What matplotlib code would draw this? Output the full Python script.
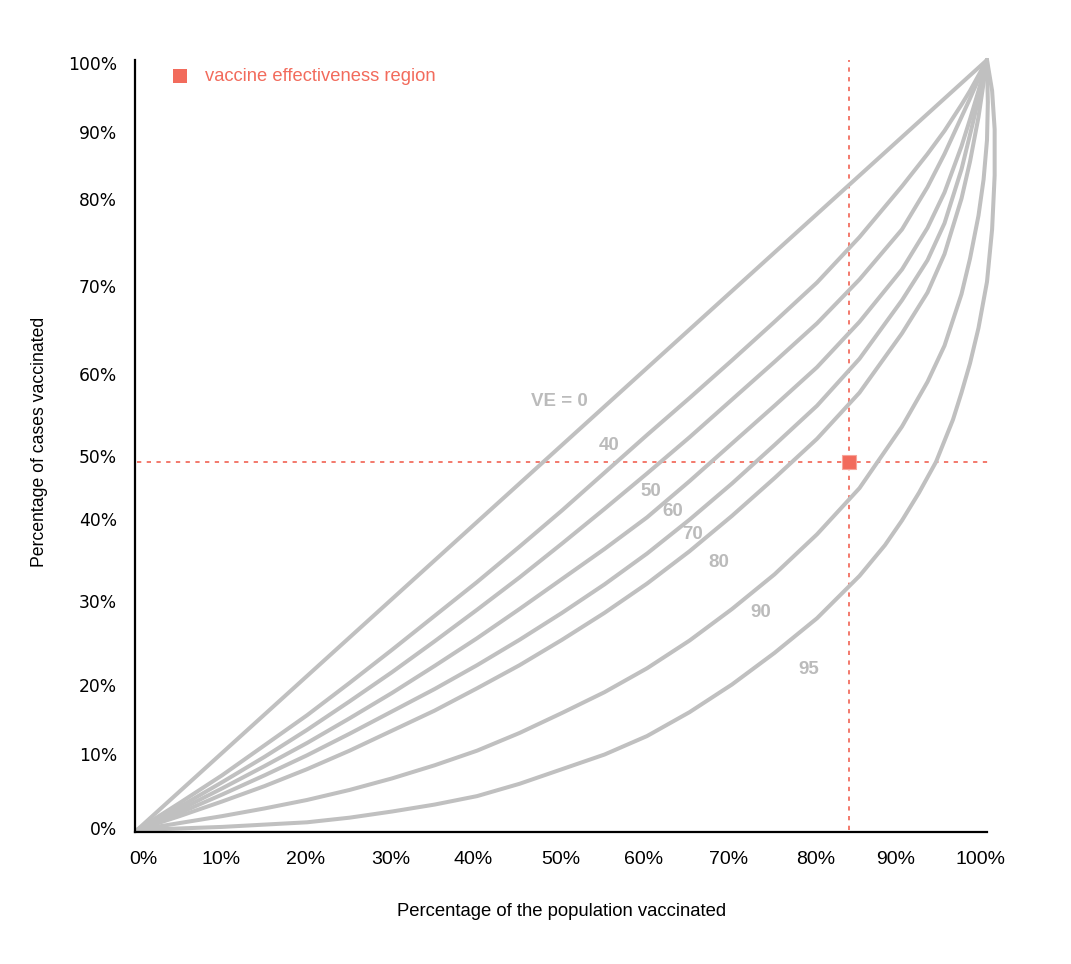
import matplotlib
matplotlib.use('Agg')
import matplotlib.pyplot as plt

# 人口接种比例 (x, %)
pop_pct = [0, 5, 10, 15, 20, 25, 30, 35, 40, 45, 50, 55, 60, 65, 70, 75, 80,
           85, 90, 93, 95, 97, 98, 99, 100]

# 各疫苗效力曲线: 病例中已接种比例 (y, %) —— 读图估计
ve0 = [0, 5, 10, 15, 20, 25, 30, 35, 40, 45, 50, 55, 60, 65, 70, 75, 80,
       85, 90, 93, 95, 97, 98, 99, 100]
ve40 = [0, 3.5, 7.1, 11.0, 14.9, 19.1, 23.4, 27.8, 32.2, 36.8, 41.5, 46.4, 51.3,
        56.1, 61.0, 66.0, 71.1, 77.0, 83.6, 87.8, 90.8, 94.2, 96.0, 98.0, 100]
ve50 = [0, 3.0, 6.2, 9.5, 13.0, 16.7, 20.5, 24.5, 28.6, 32.8, 37.2, 41.7, 46.3,
        51.0, 55.9, 60.8, 65.8, 71.5, 78.0, 83.5, 87.8, 92.6, 95.0, 97.5, 100]
ve60 = [0, 2.6, 5.4, 8.3, 11.3, 14.5, 17.8, 21.3, 24.9, 28.7, 32.6, 36.5, 40.6,
        45.3, 50.2, 55.1, 60.1, 66.0, 72.8, 78.2, 82.8, 88.8, 92.3, 96.0, 100]
ve70 = [0, 2.2, 4.6, 7.1, 9.7, 12.5, 15.4, 18.3, 21.4, 24.7, 28.2, 31.9, 35.9,
        40.3, 45.0, 50.0, 55.1, 61.2, 68.8, 74.0, 78.8, 85.8, 90.3, 94.9, 100]
ve80 = [0, 1.8, 3.7, 5.7, 7.9, 10.3, 12.9, 15.5, 18.4, 21.4, 24.7, 28.2, 32.0,
        36.2, 40.8, 45.7, 50.8, 56.8, 64.5, 69.8, 74.8, 82.0, 86.8, 92.6, 100]

ve90_x = [0, 5, 10, 15, 20, 25, 30, 35, 40, 45, 50, 55, 60, 65, 70, 75, 80,
          85, 90, 93, 95, 97, 98, 99, 99.6, 100.0, 100.1, 100]
ve90 = [0, 0.9, 1.8, 2.8, 3.9, 5.2, 6.7, 8.4, 10.3, 12.6, 15.2, 17.9, 21.0,
        24.6, 28.7, 33.2, 38.4, 44.4, 52.4, 58.2, 62.9, 69.6, 74.2, 79.8,
        84.5, 89.6, 94.5, 100]

ve95_x = [0, 5, 10, 15, 20, 25, 30, 35, 40, 45, 50, 55, 60, 65, 70, 75, 80,
          85, 88, 90, 92, 94, 96, 97, 98, 99, 100, 100.6, 100.9, 100.9, 100.6, 100]
ve95 = [0, 0.2, 0.4, 0.7, 1.0, 1.6, 2.4, 3.3, 4.4, 6.0, 7.9, 9.8, 12.2, 15.3,
        18.9, 23.0, 27.5, 33.0, 37.0, 40.2, 43.8, 47.8, 53.3, 56.8, 60.6, 65.2,
        71.2, 78, 85, 91, 96, 100]

curve_labels = ['VE = 0', '40', '50', '60', '70', '80', '90', '95']

# 疫苗效力区域点
region_x = 83.8
region_y = 47.8

xtick_labels = ['0%', '10%', '20%', '30%', '40%', '50%', '60%', '70%', '80%', '90%', '100%']
ytick_labels = ['0%', '10%', '20%', '30%', '40%', '50%', '60%', '70%', '80%', '90%', '100%']

# ---------- 布局 ----------
xtick_pos = [0.7, 9.9, 19.8, 29.8, 39.6, 49.8, 59.6, 69.6, 79.8, 89.3, 99.2]
ytick_pos = [0.3, 9.9, 18.8, 29.7, 40.4, 48.6, 59.2, 70.6, 81.9, 90.7, 99.6]
label_pos = [(49.7, 55.6), (55.5, 49.9), (60.4, 43.9), (63.0, 41.3),
             (65.4, 38.4), (68.4, 34.8), (73.4, 28.2), (79.0, 20.9)]

GREY = '#c0c0c0'
LABEL_GREY = '#bbbbbb'
SALMON = '#f26b5c'

fig = plt.figure(figsize=(10.71, 9.64), dpi=100)
ax = fig.add_axes([135 / 1071, 1 - 832 / 964, 852 / 1071, 772 / 964])

curves = [(pop_pct, ve0), (pop_pct, ve40), (pop_pct, ve50), (pop_pct, ve60),
          (pop_pct, ve70), (pop_pct, ve80), (ve90_x, ve90), (ve95_x, ve95)]
for xs, ys in curves:
    ax.plot(xs, ys, color=GREY, lw=2.9, solid_capstyle='round',
            solid_joinstyle='round', clip_on=False, zorder=2)

for txt, (lx, ly) in zip(curve_labels, label_pos):
    ax.text(lx, ly, txt, color=LABEL_GREY, fontsize=13.5, fontweight='bold',
            family='Liberation Sans', ha='center', va='center', zorder=3)

# 虚线
ax.plot([0, 100.4], [region_y, region_y], color=SALMON, lw=1.4,
        dashes=(2.2, 2.8), clip_on=False, zorder=1, alpha=0.9)
ax.plot([region_x, region_x], [0, 100], color=SALMON, lw=1.4,
        dashes=(2.2, 2.8), clip_on=False, zorder=1, alpha=0.9)
ax.plot([region_x], [region_y], marker='s', ms=10.5, color=SALMON,
        mec='#f7a59b', mew=0.8, zorder=4, clip_on=False)

# 图例
ax.plot([0.053], [0.979], marker='s', ms=10.5, color=SALMON, mew=0,
        transform=ax.transAxes, clip_on=False)
ax.text(0.0822, 0.979, 'vaccine effectiveness region', color=SALMON,
        fontsize=13.2, family='Liberation Sans', ha='left', va='center',
        transform=ax.transAxes)

ax.set_xlim(-0.24, 100)
ax.set_ylim(-0.26, 100)

ax.set_xticks(xtick_pos)
ax.set_xticklabels(xtick_labels, family='Liberation Sans', fontsize=14)
ax.set_yticks(ytick_pos)
ax.set_yticklabels(ytick_labels, family='DejaVu Sans', fontsize=12.3)
ax.tick_params(axis='x', length=0, pad=14)
ax.tick_params(axis='y', length=0, pad=13)

for side in ['top', 'right']:
    ax.spines[side].set_visible(False)
for side in ['left', 'bottom']:
    ax.spines[side].set_linewidth(1.6)
    ax.spines[side].set_color('black')

fig.text(562 / 1071, 1 - 912 / 964, 'Percentage of the population vaccinated',
         fontsize=13.3, family='Liberation Sans', ha='center', va='center')
fig.text(40 / 1071, 1 - 442 / 964, 'Percentage of cases vaccinated',
         fontsize=12.7, family='Liberation Sans', ha='center', va='center',
         rotation=90)

plt.savefig('out.png', dpi=100)
